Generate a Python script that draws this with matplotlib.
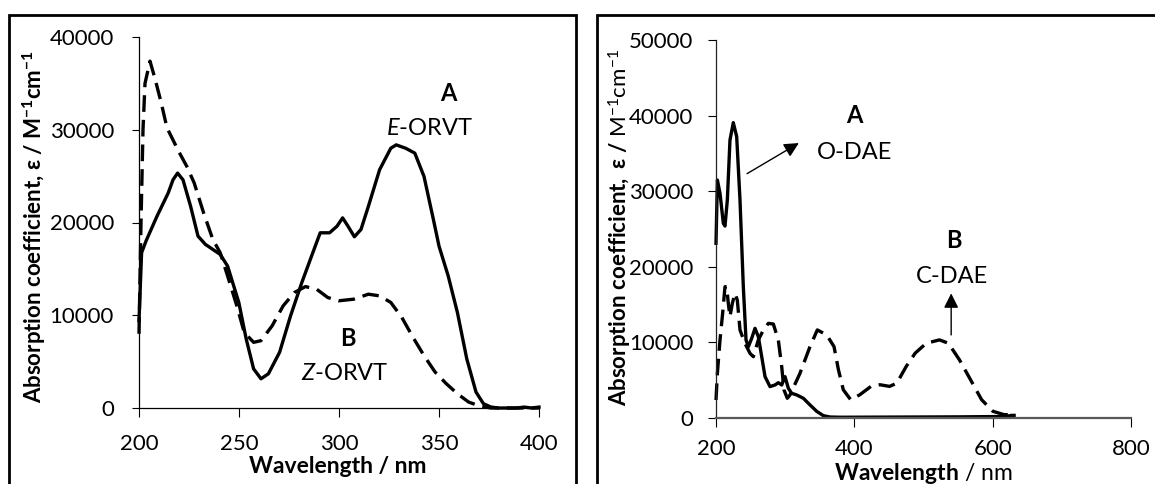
import matplotlib
matplotlib.use("Agg")
import matplotlib.pyplot as plt
from matplotlib.patches import Rectangle

plt.rcParams['font.family'] = ['Lato', 'DejaVu Sans']
plt.rcParams['mathtext.fontset'] = 'custom'
plt.rcParams['mathtext.rm'] = 'Lato'
plt.rcParams['mathtext.it'] = 'Lato:italic'
plt.rcParams['mathtext.bf'] = 'Lato:bold'

# ---------------- Data: left panel (ORVT) ----------------
e_orvt_wl = [200, 201.3, 203.5, 209, 214.6, 217, 219.3, 222, 225.8, 229.5, 233.2, 240.6,
             244.3, 249.9, 253.6, 257.3, 261, 264.7, 270.3, 275.8, 281.4, 286.9,
             290.6, 292.5, 295.3, 299, 301.8, 304.5, 307.7, 311, 314.7, 320.3,
             325.9, 328.6, 333.3, 337.9, 342.5, 347.2, 350, 354.6, 359.2, 363.9,
             368.5, 372.2, 375.9, 379.6, 388.9, 392.6, 396.3, 400]
e_orvt_eps = [9430, 16740, 18000, 20680, 23180, 24600, 25330, 24600, 21750, 18530, 17640, 16560,
              15300, 11380, 7440, 4220, 3150, 3690, 6010, 9950, 13520, 16740,
              18890, 18890, 18890, 19600, 20500, 19600, 18460, 19250, 21750, 25690,
              28010, 28370, 28010, 27480, 24970, 20320, 17460, 14240, 10300, 5290,
              1720, 470, 110, 0, 0, 100, 0, 100]

z_orvt_wl = [200, 201, 202, 203, 205.5, 208, 211, 214, 220, 223.9, 227.6, 232.3,
             236.9, 240.6, 244.3, 248.9, 252.6, 257.3, 261, 266.6, 272.1, 277.7,
             283.2, 288.8, 294.4, 299.9, 307.3, 314.7, 320.3, 325.9, 331.4, 337,
             342.5, 348.1, 353.7, 359.2, 364.8, 370.4, 375.9, 400]
z_orvt_eps = [8000, 20000, 30000, 35000, 37400, 35500, 33000, 30200, 27600, 26050, 24260, 21040,
              18180, 16740, 14240, 11020, 8160, 7080, 7260, 8870, 11020, 12450,
              13090, 12810, 11910, 11560, 11730, 12270, 12090, 11380, 9770, 7620,
              5650, 3860, 2610, 1540, 640, 210, 0, 0]

# ---------------- Data: right panel (DAE) ----------------
o_dae_wl = [200, 202, 205.8, 210.6, 213, 216.4, 220.2, 225, 229.9, 234.7, 239.5,
            243.4, 246.8, 251.6, 256.4, 261.2, 266.1, 270.9, 278.1, 285.3, 290.1,
            295, 299.8, 304.6, 309.4, 316.7, 326.3, 335.9, 345.6, 355.2, 364.8,
            380, 450, 550, 620, 627, 631]
o_dae_eps = [23110, 31480, 29710, 25750, 25390, 28840, 36770, 39070, 37220, 28840, 17370,
             10320, 9440, 10540, 11860, 10760, 8110, 5470, 4150, 4370, 4670,
             4370, 5470, 3930, 3270, 3050, 2610, 1730, 880, 310, 130,
             100, 120, 150, 200, 350, 350]

c_dae_wl = [200, 202, 205.8, 209.6, 213, 215.4, 217.8, 220.2, 223.6, 227.5, 230.8,
            234.7, 241.9, 249.1, 254, 261.2, 268.5, 275.7, 282.9, 290.1, 295,
            298.3, 303.1, 307, 321.4, 335.9, 346.5, 360, 370.6, 377, 384,
            394.7, 408, 424, 437, 451, 461.5, 475, 488, 504, 523,
            536, 552, 568, 584, 600.5, 616.6, 631]
c_dae_eps = [2380, 5910, 10320, 13850, 17370, 17370, 15160, 13400, 15160, 16490, 15600,
             11640, 9880, 8560, 8110, 10320, 11640, 12520, 12430, 10320, 6790,
             3710, 2610, 3050, 5910, 9440, 11650, 10990, 9450, 6380, 3740,
             2420, 3080, 4180, 4400, 4180, 4620, 6820, 8580, 9890, 10330,
             9890, 7690, 5060, 2420, 880, 440, 440]

left_xticks = [200, 250, 300, 350, 400]
left_yticks = [0, 10000, 20000, 30000, 40000]
right_xticks = [200, 400, 600, 800]
right_yticks = [0, 10000, 20000, 30000, 40000, 50000]

W, H = 1155, 484
fig = plt.figure(figsize=(W / 100, H / 100), dpi=100)

def fx(px):
    return px / W

def fy(py):
    return 1 - py / H

# panel frames
fig.add_artist(Rectangle((fx(9), -0.2), fx(576) - fx(9), fy(15) + 0.2,
                         transform=fig.transFigure, fill=False, lw=2.0,
                         edgecolor='black', clip_on=False))
fig.add_artist(Rectangle((fx(597), -0.2), 0.6, fy(15) + 0.2,
                         transform=fig.transFigure, fill=False, lw=2.0,
                         edgecolor='black', clip_on=False))

ax1 = fig.add_axes([fx(139), fy(408), fx(539) - fx(139), fy(37) - fy(408)])
ax2 = fig.add_axes([fx(716), fy(418), fx(1131) - fx(716), fy(40) - fy(418)])

dash = (0, (5, 2.4))
LW = 2.4
TICKFS = 16
LABFS = 16
XLABFS = 16.5
ANNFS = 17

for ax in (ax1, ax2):
    ax.spines['top'].set_visible(False)
    ax.spines['right'].set_visible(False)
    ax.patch.set_alpha(0)

# left panel
ax1.plot(e_orvt_wl, e_orvt_eps, color='black', lw=LW, clip_on=False, solid_joinstyle='round')
ax1.plot(z_orvt_wl, z_orvt_eps, color='black', lw=LW, linestyle=dash, clip_on=False)
ax1.set_xlim(200, 400)
ax1.set_ylim(0, 40000)
ax1.set_xticks(left_xticks)
ax1.set_xticklabels([str(v) for v in left_xticks])
ax1.set_yticks(left_yticks)
ax1.set_yticklabels([str(v) for v in left_yticks])
ax1.spines['left'].set_color('black')
ax1.spines['bottom'].set_color('black')
ax1.spines['left'].set_linewidth(0.9)
ax1.spines['bottom'].set_linewidth(0.9)
ax1.tick_params(axis='x', direction='out', length=6.5, width=0.8, pad=12, labelsize=TICKFS)
ax1.tick_params(axis='y', direction='out', length=5, width=0.8, pad=13, labelsize=TICKFS)

ax1.text(354.6, 33900, 'A', ha='center', va='center', fontsize=ANNFS, fontweight='bold')
ax1.text(345.3, 30160, r'$\mathit{E}$-ORVT', ha='center', va='center', fontsize=ANNFS)
ax1.text(304.5, 7440, 'B', ha='center', va='center', fontsize=ANNFS, fontweight='bold')
ax1.text(302.7, 3690, r'$\mathit{Z}$-ORVT', ha='center', va='center', fontsize=ANNFS)

# right panel
ax2.plot(o_dae_wl, o_dae_eps, color='black', lw=LW, clip_on=False, solid_joinstyle='round')
ax2.plot(c_dae_wl, c_dae_eps, color='black', lw=LW, linestyle=dash, clip_on=False)
ax2.set_xlim(200, 800)
ax2.set_ylim(0, 50000)
ax2.set_xticks(right_xticks)
ax2.set_xticklabels([str(v) for v in right_xticks])
ax2.set_yticks(right_yticks)
ax2.set_yticklabels([str(v) for v in right_yticks])
ax2.spines['left'].set_color('#222222')
ax2.spines['left'].set_linewidth(0.9)
ax2.spines['bottom'].set_color('#595959')
ax2.spines['bottom'].set_linewidth(1.6)
ax2.tick_params(axis='x', direction='out', length=6.5, width=0.8, pad=8.5, labelsize=TICKFS)
ax2.tick_params(axis='y', direction='out', length=5.5, width=0.8, pad=11, labelsize=TICKFS)

ax2.text(400, 40000, 'A', ha='center', va='center', fontsize=ANNFS, fontweight='bold')
ax2.text(400, 35180, 'O-DAE', ha='center', va='center', fontsize=ANNFS)
ax2.text(544.4, 23530, 'B', ha='center', va='center', fontsize=ANNFS, fontweight='bold')
ax2.text(541.7, 18690, 'C-DAE', ha='center', va='center', fontsize=ANNFS)
ax2.annotate('', xy=(319.8, 36370), xytext=(244.9, 32320),
             arrowprops=dict(arrowstyle='-|>', color='black', lw=1, mutation_scale=22,
                             shrinkA=0, shrinkB=0))
ax2.annotate('', xy=(540, 16490), xytext=(540, 10990),
             arrowprops=dict(arrowstyle='-|>', color='black', lw=1, mutation_scale=22,
                             shrinkA=0, shrinkB=0))

# axis labels
fig.text(fx(34), fy(227), r'Absorption coefficient, ε / M$^{\mathbf{-1}}$cm$^{\mathbf{-1}}$',
         rotation=90, ha='center', va='center', fontsize=LABFS, fontweight='bold')
fig.text(fx(338), fy(473), 'Wavelength / nm', ha='center', va='baseline',
         fontsize=XLABFS, fontweight='bold')
fig.text(fx(620), fy(228), r'$\mathbf{Absorption\ coefficient,\ ε\ /}$ M$^{-1}$cm$^{-1}$',
         rotation=90, ha='center', va='center', fontsize=LABFS)
fig.text(fx(923), fy(480), r'$\mathbf{Wavelength}$ / nm', ha='center', va='baseline',
         fontsize=XLABFS)

fig.savefig('out.png', dpi=100)
